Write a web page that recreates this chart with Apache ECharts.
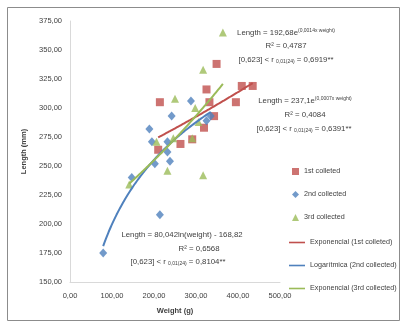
<!doctype html>
<html>
    <head>
        <meta charset="utf-8">
        <title>Weight x Length</title>
        <style>
            html, body { margin: 0; padding: 0; background: #fff; }
            #main { width: 406px; height: 327px; }
        </style>
    </head>
    <body>
        <div id="main"></div>
        <script src="https://cdn.jsdelivr.net/npm/echarts@6/dist/echarts.min.js"></script>
        <script>
            // weight (g), length (mm)
            var first = [
                [210, 264], [214, 305], [263, 269], [291, 273], [319, 283], [325, 316],
                [332, 305], [343, 293], [349, 338], [395, 305], [409, 319], [435, 319]
            ];
            var second = [
                [79, 175], [147, 240], [189, 282], [195, 271], [202, 252], [214, 208],
                [232, 271], [232, 262], [238, 254], [242, 293], [288, 306], [325, 289], [335, 293]
            ];
            var third = [
                [141, 234], [206, 271], [232, 246], [246, 274], [250, 308], [291, 274],
                [298, 300], [306, 288], [317, 333], [317, 242], [364, 365]
            ];
            // trendline equations shown on the chart
            var expFirst = [237.1, 0.0007];
            var logSecond = [80.042, -168.82];
            var expThird = [192.68, 0.0014];

            var seriesNames = ['1st colleted', '2nd collected', '3rd collected',
                'Exponencial (1st colleted)', 'Logarítmica (2nd collected)', 'Exponencial (3rd collected)'];

            var red = '#C0504D', blue = '#4F81BD', green = '#9BBB59';
            var font = '"Liberation Sans", Arial, sans-serif';
            var ink = '#404040';

            function trend(data, fn) {
                var xs = data.map(function (d) { return d[0]; });
                var lo = Math.min.apply(null, xs), hi = Math.max.apply(null, xs);
                var pts = [];
                for (var i = 0; i <= 40; i++) {
                    var x = lo + (hi - lo) * i / 40;
                    pts.push([x, fn(x)]);
                }
                return pts;
            }

            function comma(v) { return v.toFixed(2).replace('.', ','); }

            var rich = {
                a: { fontSize: 7.8, fontFamily: font, color: ink },
                sup: { fontSize: 5, fontFamily: font, color: ink, padding: [0, 0, 5, 0] },
                sub: { fontSize: 5, fontFamily: font, color: ink, padding: [4, 0, 0, 0] }
            };

            // one centred text line of a trendline label
            function line(cx, cy, text) {
                return {
                    type: 'text', x: cx, y: cy, z: 10,
                    style: { text: text, rich: rich, align: 'center', verticalAlign: 'middle', fill: ink }
                };
            }

            var chart = echarts.init(document.getElementById('main'));

            chart.setOption({
                animation: false,
                backgroundColor: '#fff',
                grid: { left: 70, right: 126, top: 21, bottom: 45 },
                xAxis: {
                    type: 'value', min: 0, max: 500, interval: 100,
                    name: 'Weight (g)', nameLocation: 'middle', nameGap: 25,
                    nameTextStyle: { fontSize: 7.5, fontWeight: 'bold', fontFamily: font, color: ink },
                    axisLine: { lineStyle: { color: '#d9d9d9' } },
                    axisTick: { show: false },
                    splitLine: { show: false },
                    axisLabel: { fontSize: 7.5, fontFamily: font, color: ink, formatter: comma, margin: 10 }
                },
                yAxis: {
                    type: 'value', min: 150, max: 375, interval: 25,
                    name: 'Length (mm)', nameLocation: 'middle', nameGap: 38,
                    nameTextStyle: { fontSize: 7.5, fontWeight: 'bold', fontFamily: font, color: ink },
                    axisLine: { show: true, lineStyle: { color: '#d9d9d9' } },
                    axisTick: { show: false },
                    splitLine: { show: false },
                    axisLabel: { fontSize: 7.5, fontFamily: font, color: ink, formatter: comma, margin: 8 }
                },
                legend: [{
                    orient: 'vertical', left: 287, top: 163, itemGap: 16,
                    itemWidth: 7, itemHeight: 7,
                    textStyle: { fontSize: 7.2, fontFamily: font, color: ink },
                    data: seriesNames.slice(0, 3)
                }, {
                    orient: 'vertical', left: 284, top: 234, itemGap: 16,
                    itemWidth: 16, itemHeight: 7,
                    textStyle: { fontSize: 7.2, fontFamily: font, color: ink },
                    data: seriesNames.slice(3).map(function (n) {
                        return { name: n, icon: 'path://M0,3L16,3L16,4.6L0,4.6Z' };
                    })
                }],
                graphic: [
                    { type: 'rect', shape: { x: 7.5, y: 7.5, width: 392, height: 313 },
                      style: { fill: 'none', stroke: '#8c8c8c', lineWidth: 1 } },
                    line(286, 33, '{a|Length = 192,68e}{sup|(0,0014x weight)}'),
                    line(286, 46, '{a|R² = 0,4787}'),
                    line(286, 60, '{a|[0,623] < r }{sub|0,01(24)}{a| = 0,6919**}'),
                    line(305, 101, '{a|Length = 237,1e}{sup|(0,0007x weight)}'),
                    line(305, 115, '{a|R² = 0,4084}'),
                    line(304, 129, '{a|[0,623] < r }{sub|0,01(24)}{a| = 0,6391**}'),
                    line(182, 235, '{a|Length = 80,042ln(weight) - 168,82}'),
                    line(199, 249, '{a|R² = 0,6568}'),
                    line(178, 262, '{a|[0,623] < r }{sub|0,01(24)}{a| = 0,8104**}')
                ],
                series: [
                    { name: seriesNames[0], type: 'scatter', symbol: 'rect', symbolSize: 8,
                      itemStyle: { color: red }, data: first, z: 3 },
                    { name: seriesNames[1], type: 'scatter', symbol: 'diamond', symbolSize: [8, 9],
                      itemStyle: { color: blue }, data: second, z: 3 },
                    { name: seriesNames[2], type: 'scatter', symbol: 'triangle', symbolSize: 8,
                      itemStyle: { color: green }, data: third, z: 3 },
                    { name: seriesNames[3], type: 'line', symbol: 'none', smooth: true,
                      lineStyle: { color: red, width: 2 }, itemStyle: { color: red },
                      data: trend(first, function (x) { return expFirst[0] * Math.exp(expFirst[1] * x); }), z: 4 },
                    { name: seriesNames[4], type: 'line', symbol: 'none', smooth: true,
                      lineStyle: { color: blue, width: 2 }, itemStyle: { color: blue },
                      data: trend(second, function (x) { return logSecond[0] * Math.log(x) + logSecond[1]; }), z: 4 },
                    { name: seriesNames[5], type: 'line', symbol: 'none', smooth: true,
                      lineStyle: { color: green, width: 2 }, itemStyle: { color: green },
                      data: trend(third, function (x) { return expThird[0] * Math.exp(expThird[1] * x); }), z: 4 }
                ]
            });
        </script>
    </body>
</html>
